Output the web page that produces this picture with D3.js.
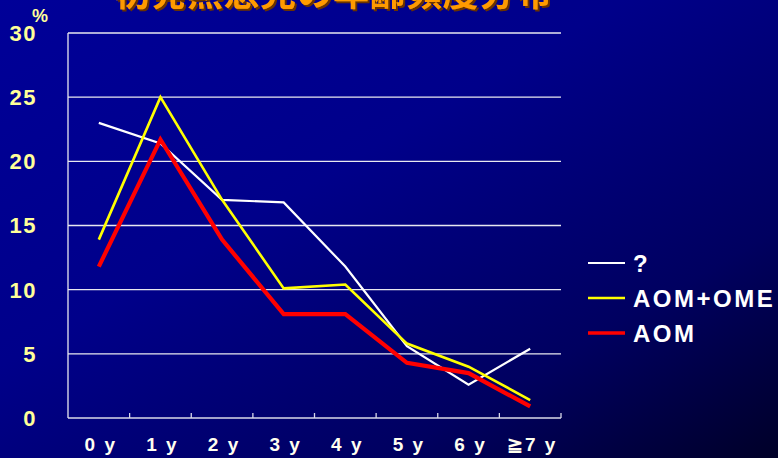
<!DOCTYPE html>
<html>
<head>
<meta charset="utf-8">
<script src="https://cdn.jsdelivr.net/npm/d3@7"></script>
<style>
  html, body { margin: 0; padding: 0; background: #000060; }
  svg { display: block; }
</style>
</head>
<body>
<svg id="chart" width="778" height="458"></svg>
<script>
// Age groups along the x axis
const categories = ["0 y", "1 y", "2 y", "3 y", "4 y", "5 y", "6 y", "≧7 y"];
// Percent of patients per age group
const unknownValues = [23.0, 21.4, 17.0, 16.8, 11.8, 5.6, 2.6, 5.4];
const aomOmeValues  = [13.9, 25.0, 17.0, 10.1, 10.4, 5.8, 4.0, 1.4];
const aomValues     = [11.8, 21.7, 13.9, 8.1, 8.1, 4.3, 3.5, 0.9];
const yTicks = [0, 5, 10, 15, 20, 25, 30];
const seriesNames = ["?", "AOM+OME", "AOM"];
const titleText = "初発熱患児の年齢頻度分布";

const series = [
  { name: seriesNames[0], values: unknownValues, color: "#ffffff", width: 2.2 },
  { name: seriesNames[1], values: aomOmeValues,  color: "#ffff00", width: 2.6 },
  { name: seriesNames[2], values: aomValues,     color: "#ff0000", width: 4.2 }
];

const svg = d3.select("#chart");
const W = 778, H = 458;
const plotLeft = 68, plotRight = 561, plotTop = 33, plotBottom = 418;

// Background gradient: bright blue upper-left fading to navy lower-right
const defs = svg.append("defs");
const grad = defs.append("linearGradient")
  .attr("id", "bg").attr("x1", "0").attr("y1", "0").attr("x2", "1").attr("y2", "1");
grad.append("stop").attr("offset", "0").attr("stop-color", "#000098");
grad.append("stop").attr("offset", "0.4").attr("stop-color", "#00008a");
grad.append("stop").attr("offset", "0.75").attr("stop-color", "#000060");
grad.append("stop").attr("offset", "1").attr("stop-color", "#000028");
svg.append("rect").attr("width", W).attr("height", H).attr("fill", "url(#bg)");

const shadow = defs.append("filter").attr("id", "shadow")
  .attr("x", "-5%").attr("y", "-20%").attr("width", "110%").attr("height", "140%");
shadow.append("feDropShadow").attr("dx", 2).attr("dy", 2).attr("stdDeviation", 0)
  .attr("flood-color", "#6a3000");

// Title (top of the slide, running off the top edge)
svg.append("text")
  .attr("x", 114).attr("y", 6)
  .attr("font-family", "'Noto Sans CJK JP', sans-serif")
  .attr("font-weight", "bold")
  .attr("font-size", 36)
  .attr("letter-spacing", 0.5)
  .attr("fill", "#ff9a00")
  .attr("filter", "url(#shadow)")
  .text(titleText);

const x = d3.scaleBand().domain(categories).range([plotLeft, plotRight]).padding(0);
const y = d3.scaleLinear().domain([0, 30]).range([plotBottom, plotTop]);

// Horizontal grid lines
svg.append("g").selectAll("line").data(yTicks.filter(d => d > 0)).join("line")
  .attr("x1", plotLeft).attr("x2", plotRight)
  .attr("y1", d => y(d)).attr("y2", d => y(d))
  .attr("stroke", "#e8e8f0").attr("stroke-width", 1.3);

// Axes lines
svg.append("line").attr("x1", plotLeft).attr("x2", plotLeft).attr("y1", plotTop).attr("y2", plotBottom)
  .attr("stroke", "#e8e8f0").attr("stroke-width", 1.3);
svg.append("line").attr("x1", plotLeft).attr("x2", plotRight).attr("y1", plotBottom).attr("y2", plotBottom)
  .attr("stroke", "#d8d8e8").attr("stroke-width", 1.6);

// Category tick marks on the x axis (boundaries between groups)
const boundaries = categories.map(c => x(c) + x.bandwidth());
svg.append("g").selectAll("line").data(boundaries).join("line")
  .attr("x1", d => d).attr("x2", d => d)
  .attr("y1", plotBottom).attr("y2", plotBottom - 5)
  .attr("stroke", "#d8d8e8").attr("stroke-width", 1.3);

// Y tick labels
const labelFont = "'Liberation Sans', Arial, sans-serif";
svg.append("g").selectAll("text").data(yTicks).join("text")
  .attr("x", 37).attr("y", d => y(d))
  .attr("dy", "0.36em")
  .attr("text-anchor", "end")
  .attr("font-family", labelFont).attr("font-weight", "bold")
  .attr("font-size", 22).attr("letter-spacing", 1.5)
  .attr("fill", "#ffff99")
  .text(d => d);

svg.append("text").attr("x", 32).attr("y", 22)
  .attr("font-family", labelFont).attr("font-weight", "bold")
  .attr("font-size", 18).attr("fill", "#ffff99").text("%");

// X category labels
svg.append("g").selectAll("text").data(categories).join("text")
  .attr("x", d => x(d) + x.bandwidth() / 2 + 2).attr("y", 451)
  .attr("text-anchor", "middle")
  .attr("font-family", labelFont).attr("font-weight", "bold")
  .attr("font-size", 19).attr("letter-spacing", 2)
  .attr("fill", "#fffff0")
  .text(d => d);

// Series lines
const line = d3.line()
  .x((d, i) => x(categories[i]) + x.bandwidth() / 2)
  .y(d => y(d));
svg.append("g").selectAll("path").data(series).join("path")
  .attr("d", d => line(d.values))
  .attr("fill", "none")
  .attr("stroke", d => d.color)
  .attr("stroke-width", d => d.width)
  .attr("stroke-linejoin", "miter");

// Legend
const legend = svg.append("g").selectAll("g").data(series).join("g")
  .attr("transform", (d, i) => `translate(588, ${263 + i * 35})`);
legend.append("line").attr("x1", 0).attr("x2", 37).attr("y1", 0).attr("y2", 0)
  .attr("stroke", d => d.color).attr("stroke-width", d => Math.min(d.width, 3.5));
legend.append("text").attr("x", 45).attr("y", 9)
  .attr("font-family", labelFont).attr("font-weight", "bold")
  .attr("font-size", 24).attr("letter-spacing", 2.5)
  .attr("fill", "#ffffff")
  .text(d => d.name);
</script>
</body>
</html>
